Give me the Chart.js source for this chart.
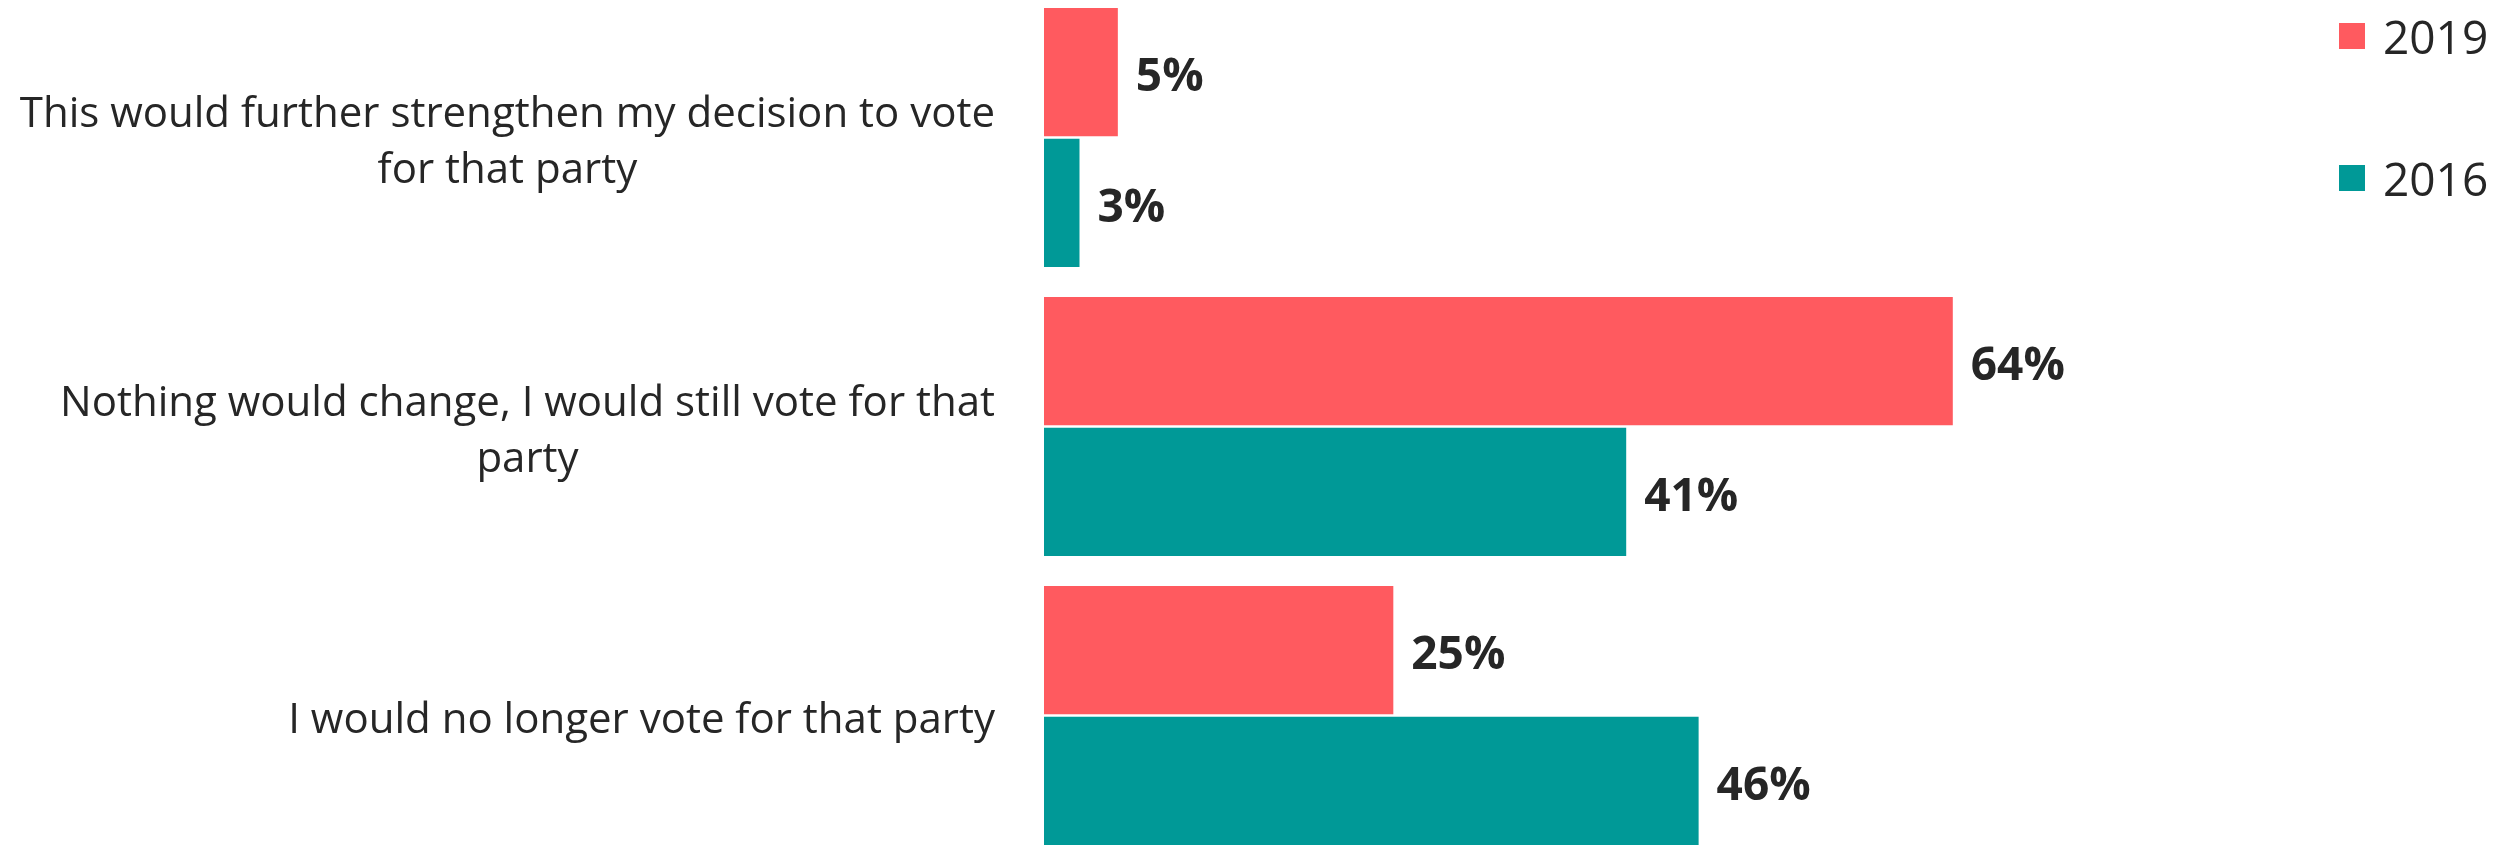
<!DOCTYPE html>
<html>
<head>
<meta charset="utf-8">
<script src="https://cdn.jsdelivr.net/npm/chart.js@4"></script>
<style>
  html, body { margin: 0; padding: 0; background: #fff; overflow: hidden; }
  #wrap { position: absolute; left: 0; top: -7px; width: 2516px; height: 867px; }
</style>
</head>
<body>
<div id="wrap"><canvas id="chart" width="2516" height="867"></canvas></div>
<script>
// Data
const categories = [
  ['This would further strengthen my decision to vote', 'for that party'],
  ['Nothing would change, I would still vote for that', 'party'],
  ['I would no longer vote for that party']
];
const values2019 = [5.2, 64, 24.6];
const values2016 = [2.5, 41, 46.1];
const seriesNames = ['2019', '2016'];
const colors = ['#ff5a5f', '#009997'];

const textColor = '#262626';
const fontFamily = '"Open Sans", sans-serif';

// Draws value labels, category labels and the legend
const labelPlugin = {
  id: 'customLabels',
  afterDatasetsDraw(chart) {
    const ctx = chart.ctx;
    ctx.save();
    ctx.fillStyle = textColor;

    // values at the end of each bar
    ctx.font = 'bold 46px ' + fontFamily;
    ctx.textAlign = 'left';
    ctx.textBaseline = 'middle';
    chart.data.datasets.forEach((ds, di) => {
      const meta = chart.getDatasetMeta(di);
      meta.data.forEach((bar, i) => {
        ctx.fillText(Math.round(ds.data[i]) + '%', bar.x + 18, bar.y + 6);
      });
    });

    // category labels: right-aligned block, lines centred within it
    ctx.font = '42px ' + fontFamily;
    ctx.textAlign = 'center';
    const yScale = chart.scales.y;
    categories.forEach((lines, i) => {
      const y = yScale.getPixelForValue(i);
      const widest = Math.max(...lines.map(l => ctx.measureText(l).width));
      const cx = chart.chartArea.left - 49 - widest / 2;
      lines.forEach((l, k) => {
        ctx.fillText(l, cx, y + 6 + (k - (lines.length - 1) / 2) * 56);
      });
    });

    // legend
    ctx.font = '46px ' + fontFamily;
    ctx.textAlign = 'left';
    seriesNames.forEach((name, i) => {
      const top = 30 + i * 142;
      ctx.fillStyle = colors[i];
      ctx.fillRect(2339, top, 26, 26);
      ctx.fillStyle = textColor;
      ctx.fillText(name, 2383, top + 18);
    });
    ctx.restore();
  }
};

new Chart(document.getElementById('chart').getContext('2d'), {
  type: 'bar',
  data: {
    labels: categories,
    datasets: [
      { label: seriesNames[0], data: values2019, backgroundColor: colors[0] },
      { label: seriesNames[1], data: values2016, backgroundColor: colors[1] }
    ]
  },
  options: {
    indexAxis: 'y',
    responsive: false,
    animation: false,
    layout: { padding: { left: 1044, right: 336, top: 0, bottom: 0 } },
    datasets: {
      bar: { categoryPercentage: 0.905, barPercentage: 0.98 }
    },
    plugins: {
      legend: { display: false },
      tooltip: { enabled: false }
    },
    scales: {
      x: { display: false, min: 0, max: 80 },
      y: { display: false }
    }
  },
  plugins: [labelPlugin]
});
</script>
</body>
</html>
